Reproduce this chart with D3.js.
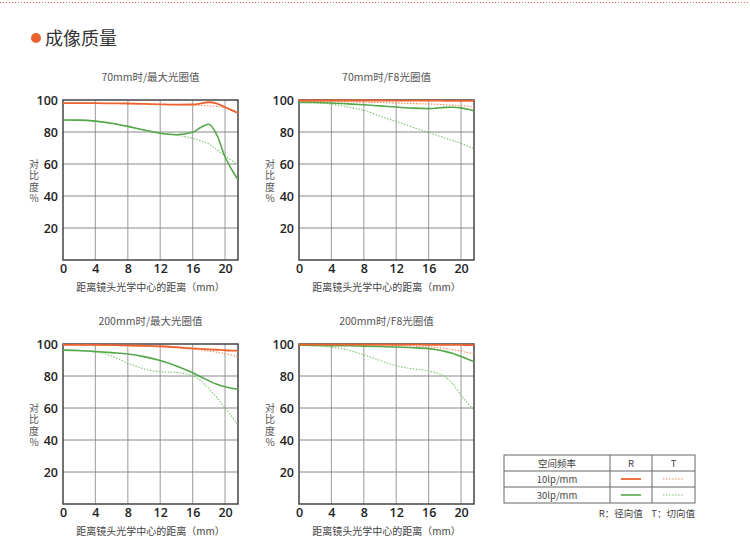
<!DOCTYPE html>
<html>
<head>
<meta charset="utf-8">
<script src="https://cdn.jsdelivr.net/npm/d3@7"></script>
<style>
  body { margin: 0; background: #fff; }
  svg { display: block; font-family: "Noto Sans CJK SC", "Noto Sans", sans-serif; }
</style>
</head>
<body>
<div id="chart"></div>
<script>
// MTF data
var pageTitle = '成像质量';
var chartTitles = ['70mm时/最大光圈值', '70mm时/F8光圈值', '200mm时/最大光圈值', '200mm时/F8光圈值'];
var xTitle = '距离镜头光学中心的距离（mm）';
var yTitle = '对比度%';
var xTicks = [0, 4, 8, 12, 16, 20];
var yTicks = [20, 40, 60, 80, 100];
var distances = [0, 2, 4, 6, 8, 10, 12, 14, 16, 17, 18, 19, 20, 21, 21.6];

// 70mm, max aperture
var c1R10 = [98, 98, 98, 97.9, 97.8, 97.6, 97.3, 97.1, 97.2, 97.8, 98.6, 97.8, 95.5, 93.2, 91.8];
var c1T10 = [98, 98, 97.9, 97.8, 97.7, 97.5, 97.2, 97, 96.8, 96.6, 96.3, 95.9, 95.2, 93.8, 92.8];
var c1R30 = [87.5, 87.4, 86.8, 85.5, 83.5, 81.2, 79.2, 78.3, 79.8, 82.8, 84.8, 78, 64.5, 55, 50.3];
var c1T30 = [87.5, 87.4, 86.8, 85.5, 83.5, 81.2, 79.3, 78, 76, 74.5, 72.5, 69, 65, 61.5, 59.3];
// 70mm, F8
var c2R10 = [99.7, 99.7, 99.7, 99.7, 99.7, 99.7, 99.6, 99.6, 99.6, 99.6, 99.5, 99.5, 99.5, 99.4, 99.4];
var c2T10 = [99, 99, 98.9, 98.8, 98.6, 98.4, 98.1, 97.8, 97.5, 97.3, 97.1, 96.8, 96.5, 96, 95.7];
var c2R30 = [98.5, 98.4, 98.1, 97.6, 97, 96.3, 95.6, 94.9, 94.6, 94.9, 95.4, 95.5, 95.1, 94, 93.1];
var c2T30 = [98.5, 98.2, 97.5, 95.7, 93.5, 90, 86.5, 83, 79.7, 78, 76.3, 74.6, 72.9, 70.8, 69.3];
// 200mm, max aperture
var c3R10 = [99.5, 99.5, 99.4, 99.3, 99.1, 98.9, 98.6, 98, 97.3, 97, 96.7, 96.4, 96.1, 95.9, 95.8];
var c3T10 = [99.5, 99.4, 99.3, 99.1, 98.9, 98.6, 98.2, 97.5, 96.7, 96.2, 95.6, 94.9, 94, 92.8, 91.7];
var c3R30 = [96.2, 95.9, 95.3, 94.6, 93.8, 92.1, 89.7, 86.3, 82, 79.5, 77, 74.8, 73.3, 72.2, 71.7];
var c3T30 = [96.2, 95.7, 95, 92.5, 88, 84.5, 82.7, 82.2, 80.2, 77, 72, 66.5, 60, 53.5, 49.5];
// 200mm, F8
var c4R10 = [99.6, 99.6, 99.6, 99.6, 99.6, 99.6, 99.6, 99.6, 99.5, 99.5, 99.5, 99.5, 99.4, 99.3, 99.3];
var c4T10 = [99.6, 99.6, 99.5, 99.5, 99.4, 99.3, 99.1, 98.8, 98.2, 97.8, 97.2, 96.4, 95.5, 94.4, 93.7];
var c4R30 = [99.2, 99.1, 99, 98.9, 98.7, 98.4, 98.1, 97.7, 97.1, 96.4, 95.4, 94, 92.2, 90.2, 88.9];
var c4T30 = [99.2, 98.9, 98, 96.3, 93.2, 89.7, 86.4, 84.5, 83.2, 81.8, 79.6, 75, 68, 62, 58.7];

var legendHead = ['空间频率', 'R', 'T'];
var legendRows = ['10lp/mm', '30lp/mm'];
var legendNote = 'R：径向值    T：切向值';

var chartSeries = [
    [c1R10, c1T10, c1R30, c1T30],
    [c2R10, c2T10, c2R30, c2T30],
    [c3R10, c3T10, c3R30, c3T30],
    [c4R10, c4T10, c4R30, c4T30]
];

var W = 750, H = 541;
var orange = '#ec6330', orangeLight = '#f08a5c';
var green = '#55a84a', greenLight = '#7cc46c';
// solid R, dotted T for each frequency
var styles = [
    {color: orange, dash: null, width: 1.8},
    {color: orangeLight, dash: '1.5,1.5', width: 1.1},
    {color: green, dash: null, width: 1.6},
    {color: greenLight, dash: '1.5,1.5', width: 1.1}
];

var pw = 175, ph = 160;
var origins = [[63, 100], [299, 100], [63, 344], [299, 344]];

var svg = d3.select('#chart').append('svg')
    .attr('width', W)
    .attr('height', H);

// dotted rule on top
svg.append('line')
    .attr('x1', 0).attr('x2', W)
    .attr('y1', 2.5).attr('y2', 2.5)
    .style('stroke', '#e0664a')
    .style('stroke-width', 1)
    .style('stroke-dasharray', '1,2');

svg.append('circle')
    .attr('cx', 36).attr('cy', 38).attr('r', 5)
    .style('fill', '#ec6330');

svg.append('text')
    .attr('x', 45).attr('y', 45)
    .text(pageTitle)
    .style('font-size', '18px')
    .style('fill', '#333');

var x = d3.scaleLinear().domain([0, 21.6]).range([0, pw]);
var y = d3.scaleLinear().domain([0, 100]).range([ph, 0]);

var line = d3.line()
    .x(function(d){ return x(d[0]); })
    .y(function(d){ return y(d[1]); })
    .curve(d3.curveMonotoneX);

chartSeries.forEach(function(series, ci){

    var g = svg.append('g')
        .attr('transform', 'translate(' + origins[ci][0] + ',' + origins[ci][1] + ')');

    g.append('text')
        .attr('x', pw / 2).attr('y', -19)
        .attr('text-anchor', 'middle')
        .text(chartTitles[ci])
        .style('font-size', '10.5px')
        .style('fill', '#555');

    // grid
    g.selectAll('.vgrid')
        .data(xTicks.filter(function(d){ return d > 0; }))
        .enter().append('line')
        .attr('x1', function(d){ return x(d); })
        .attr('x2', function(d){ return x(d); })
        .attr('y1', 0).attr('y2', ph)
        .style('stroke', '#aaa')
        .style('stroke-width', 1.2);

    g.selectAll('.hgrid')
        .data(yTicks.filter(function(d){ return d < 100; }))
        .enter().append('line')
        .attr('x1', 0).attr('x2', pw)
        .attr('y1', function(d){ return y(d); })
        .attr('y2', function(d){ return y(d); })
        .style('stroke', '#888')
        .style('stroke-width', 1);

    g.append('rect')
        .attr('width', pw).attr('height', ph)
        .style('fill', 'none')
        .style('stroke', '#444')
        .style('stroke-width', 1.5);

    // axes, tick text only
    var xAxis = g.append('g')
        .attr('transform', 'translate(0,' + ph + ')')
        .call(d3.axisBottom(x).tickValues(xTicks).tickSize(0).tickPadding(4));
    var yAxis = g.append('g')
        .call(d3.axisLeft(y).tickValues(yTicks).tickSize(0).tickPadding(5));
    [xAxis, yAxis].forEach(function(a){
        a.select('.domain').remove();
        a.selectAll('text')
            .style('font-family', '"Open Sans", "Noto Sans", sans-serif')
            .style('font-weight', '600')
            .style('font-size', '12.5px')
            .style('fill', '#222');
    });

    g.append('text')
        .attr('x', pw / 2).attr('y', ph + 31)
        .attr('text-anchor', 'middle')
        .text(xTitle)
        .style('font-size', '10px')
        .style('fill', '#444');

    // vertical y title
    g.append('text')
        .attr('x', -29).attr('y', 82)
        .attr('text-anchor', 'middle')
        .text(yTitle)
        .style('writing-mode', 'vertical-rl')
        .style('text-orientation', 'upright')
        .style('letter-spacing', '1.5px')
        .style('font-size', '10px')
        .style('fill', '#555');

    var clip = 'clip' + ci;
    g.append('clipPath').attr('id', clip)
        .append('rect')
        .attr('x', 0).attr('y', -2)
        .attr('width', pw).attr('height', ph + 2);

    // draw T first so solid R sits on top
    [3, 1, 2, 0].forEach(function(si){
        var st = styles[si];
        g.append('path')
            .datum(distances.map(function(d, i){ return [d, series[si][i]]; }))
            .attr('d', line)
            .attr('clip-path', 'url(#' + clip + ')')
            .style('fill', 'none')
            .style('stroke', st.color)
            .style('stroke-width', st.width)
            .style('stroke-dasharray', st.dash);
    });
});

// legend table
var lx = 504, ly = 455;
var colX = [0, 106, 148, 191];
var rowH = 16;
var lg = svg.append('g').attr('transform', 'translate(' + lx + ',' + ly + ')');

lg.append('rect')
    .attr('width', colX[3]).attr('height', rowH * 3)
    .style('fill', 'none')
    .style('stroke', '#666')
    .style('stroke-width', 1);

[1, 2].forEach(function(c){
    lg.append('line')
        .attr('x1', colX[c]).attr('x2', colX[c])
        .attr('y1', 0).attr('y2', rowH * 3)
        .style('stroke', '#666');
});
[1, 2].forEach(function(r){
    lg.append('line')
        .attr('x1', 0).attr('x2', colX[3])
        .attr('y1', r * rowH).attr('y2', r * rowH)
        .style('stroke', '#666');
});

legendHead.forEach(function(t, i){
    lg.append('text')
        .attr('x', (colX[i] + colX[i + 1]) / 2)
        .attr('y', rowH / 2 + 3.5)
        .attr('text-anchor', 'middle')
        .text(t)
        .style('font-size', '9.5px')
        .style('fill', '#444');
});

legendRows.forEach(function(t, r){
    var cy = (r + 1) * rowH + rowH / 2;
    lg.append('text')
        .attr('x', colX[1] / 2)
        .attr('y', cy + 3.5)
        .attr('text-anchor', 'middle')
        .text(t)
        .style('font-size', '9.5px')
        .style('fill', '#444');
    [0, 1].forEach(function(k){
        var st = styles[r * 2 + k];
        lg.append('line')
            .attr('x1', colX[k + 1] + 11).attr('x2', colX[k + 2] - 11)
            .attr('y1', cy).attr('y2', cy)
            .style('stroke', st.color)
            .style('stroke-width', st.width)
            .style('stroke-dasharray', st.dash);
    });
});

lg.append('text')
    .attr('x', colX[3]).attr('y', rowH * 3 + 14)
    .attr('text-anchor', 'end')
    .text(legendNote)
    .style('font-size', '9.5px')
    .style('fill', '#444')
    .style('white-space', 'pre');
</script>
</body>
</html>
